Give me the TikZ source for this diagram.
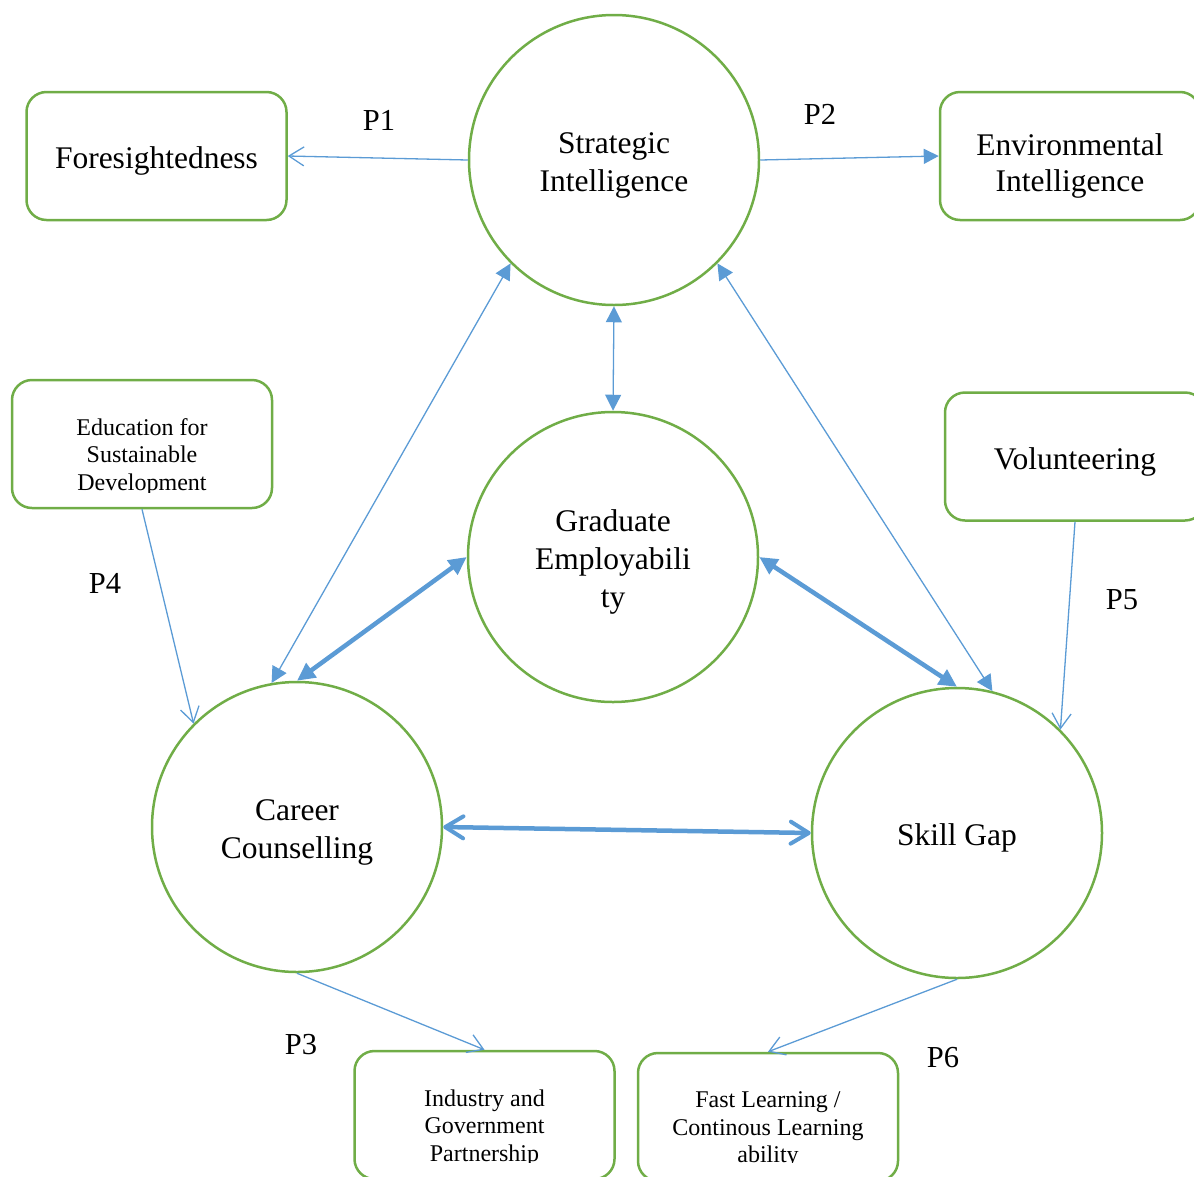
\documentclass[tikz,border=0pt]{standalone}
\usepackage{fontspec}
\setmainfont{Liberation Serif}
\usetikzlibrary{arrows.meta}
\definecolor{ringgreen}{HTML}{70AD47}
\definecolor{linkblue}{HTML}{5B9BD5}
\begin{document}
\begin{tikzpicture}[x=1pt,y=-1pt,
  concept/.style={circle, draw=ringgreen, line width=2.5pt, minimum size=290pt, inner sep=0pt},
  factor/.style={draw=ringgreen, line width=2.5pt, rounded corners=20pt,
    minimum width=260pt, minimum height=128pt, inner sep=0pt},
  bigtext/.style={align=center, inner sep=0pt, font=\fontsize{31.5}{38}\selectfont},
  boxtext/.style={align=center, inner sep=0pt, font=\fontsize{31.5}{36}\selectfont},
  smalltext/.style={align=center, inner sep=0pt, font=\fontsize{24}{27.5}\selectfont},
  plabel/.style={inner sep=0pt, font=\fontsize{30.5}{36}\selectfont},
  thinlink/.style={draw=linkblue, line width=1.3pt},
  thicklink/.style={draw=linkblue, line width=4.5pt},
  openhead/.style={-{Straight Barb[length=15pt,width=19pt,line width=1.3pt]}},
  solidhead/.style={-{Triangle[length=15pt,width=15pt]}},
  bothsolid/.style={{Triangle[length=16pt,width=16pt]}-{Triangle[length=16pt,width=16pt]}},
  bothsolidbig/.style={{Triangle[length=18pt,width=17pt]}-{Triangle[length=18pt,width=17pt]}},
  bothopenbig/.style={{Straight Barb[length=18pt,width=22pt,line width=4pt,round]}-{Straight Barb[length=18pt,width=22pt,line width=4pt,round]}},
]
\useasboundingbox (0,0) rectangle (1194,1176);
\clip (0,0) rectangle (1194,1176);

% central concepts
\node[concept] (si) at (614,160) {};
\node[concept] (ge) at (613,557) {};
\node[concept] (cc) at (297,827) {};
\node[concept] (sg) at (957,833) {};
\node[bigtext] (sitext) at (614,165) {Strategic\\Intelligence};
\node[bigtext] (getext) at (613,562) {Graduate\\Employabili\\ty};
\node[bigtext] (cctext) at (297,832) {Career\\Counselling};
\node[bigtext] (sgtext) at (957,838) {Skill Gap};

% surrounding factors
\node[factor] (fs)  at (156.5,156) {};
\node[factor] (env) at (1070,156) {};
\node[factor] (esd) at (142,444) {};
\node[factor] (vol) at (1075,456.5) {};
\node[factor] (igp) at (484.5,1115) {};
\node[factor] (flc) at (768,1117) {};

\node[boxtext] (fstext) at (156.5,161) {Foresightedness};
\node[boxtext] (envtext) at (1070,166) {Environmental\\Intelligence};
\node[boxtext] (voltext) at (1075,462) {Volunteering};
\begin{scope}
  \clip (14,382) rectangle (270,492);
  \node[smalltext] (esdtext) at (142,457) {Education for\\Sustainable\\Development};
\end{scope}
\begin{scope}
  \clip (0,1052) rectangle (1194,1162);
  \node[smalltext] (igptext) at (484.5,1128) {Industry and\\Government\\Partnership};
  \node[smalltext] (flctext) at (768,1130) {Fast Learning /\\Continous Learning\\ability};
\end{scope}

% proposition labels
\node[plabel] (p1) at (379,120) {P1};
\node[plabel] (p2) at (820,114) {P2};
\node[plabel] (p3) at (301,1045) {P3};
\node[plabel] (p4) at (105,583) {P4};
\node[plabel] (p5) at (1122,600) {P5};
\node[plabel] (p6) at (943,1058) {P6};

% links
\draw[thinlink, openhead] (si.west) -- (fs.east);
\draw[thinlink, solidhead] (si.east) -- (env.west);
\draw[thinlink, bothsolid] (si.south) -- (ge.north);
\draw[thinlink, bothsolid] (si.225) -- (cc.100);
\draw[thinlink, bothsolid] (si.315) -- (sg.76);
\draw[thicklink, bothsolidbig] (ge.west) -- (cc.north);
\draw[thicklink, bothsolidbig] (ge.east) -- (sg.north);
\draw[thicklink, bothopenbig] (cc.east) -- (sg.west);
\draw[thinlink, openhead] (esd.south) -- (cc.135);
\draw[thinlink, openhead] (vol.south) -- (sg.45);
\draw[thinlink, openhead] (cc.south) -- (igp.north);
\draw[thinlink, openhead] (sg.south) -- (flc.north);
\end{tikzpicture}
\end{document}
